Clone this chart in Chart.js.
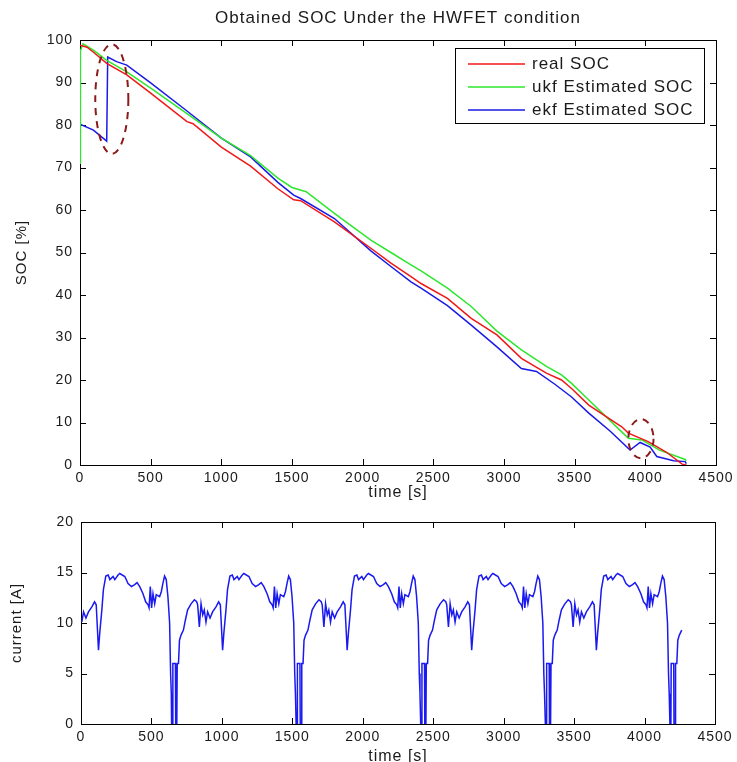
<!DOCTYPE html>
<html>
<head>
<meta charset="utf-8">
<script src="https://cdn.jsdelivr.net/npm/chart.js@4.4.0/dist/chart.umd.min.js"></script>
<style>
  body { margin: 0; background: #fff; overflow: hidden; }
  #wrap { position: relative; width: 737px; height: 762px; overflow: hidden; }
  #socChart { position: absolute; left: 0; top: 0; }
  #currentChart { position: absolute; left: 0; top: 500px; }
</style>
</head>
<body>
<div id="wrap">
  <canvas id="socChart" width="737" height="502"></canvas>
  <canvas id="currentChart" width="737" height="268"></canvas>
</div>
<script>
// SOC curves (time in s, SOC in %)
const realTime = [0, 50, 100, 189, 331, 500, 757, 800, 1000, 1207, 1400, 1512, 1561, 1800, 2058, 2200, 2342, 2413, 2600, 2768, 2950, 3123, 3300, 3407, 3478, 3600, 3833, 3880, 4020, 4150, 4260, 4290];
const realSoc  = [98.8, 98.3, 97.0, 94.5, 91.8, 87.5, 80.8, 80.3, 74.8, 70.3, 65.0, 62.4, 62.2, 57.2, 51.0, 47.5, 44.3, 42.7, 39.2, 34.5, 30.6, 25.1, 21.6, 20.0, 18.0, 14.1, 9.0, 7.5, 5.5, 3.0, 0.2, 0];

const ukfTime = [0, 3, 22, 100, 189, 331, 500, 757, 1000, 1207, 1400, 1500, 1600, 1800, 2058, 2200, 2342, 2413, 2600, 2768, 2950, 3123, 3300, 3407, 3478, 3600, 3833, 3880, 3975, 4100, 4282, 4290];
const ukfSoc  = [71.0, 97.5, 99.1, 97.5, 95.2, 92.5, 88.7, 82.7, 76.9, 72.8, 67.5, 65.3, 64.3, 59.2, 52.9, 50.0, 47.1, 45.7, 41.6, 37.3, 31.5, 27.1, 23.2, 21.2, 19.2, 15.3, 7.8, 6.3, 5.9, 3.5, 1.3, 1.0];

const ekfTime = [0, 95, 189, 196, 259, 331, 500, 757, 1000, 1207, 1400, 1512, 1561, 1800, 2058, 2200, 2342, 2413, 2600, 2768, 2950, 3123, 3230, 3360, 3478, 3600, 3750, 3892, 3963, 4034, 4081, 4200, 4282, 4290];
const ekfSoc  = [80.2, 78.8, 76.2, 96.0, 94.9, 94.1, 89.9, 83.3, 76.9, 72.5, 66.5, 63.5, 62.7, 58.0, 50.4, 46.7, 43.1, 41.6, 37.5, 32.9, 27.8, 22.7, 22.0, 19.0, 16.0, 12.2, 8.0, 3.5, 5.3, 4.2, 2.0, 1.0, 0.8, 0.3];

// one repetition of the current trace, time measured from the start of each stop
const cycleTime = [0, 7, 9, 27, 29, 37, 40, 49, 56, 67, 84, 98, 114, 138, 162, 178, 185, 197, 209, 221, 232, 244, 256, 273, 291, 315, 334, 346, 355, 362, 371, 386, 397, 414, 431, 443, 466, 478, 501, 513, 549, 572, 596, 619, 636, 655, 678, 697, 714, 721, 730, 739, 749, 761, 772, 796, 808, 819, 831, 843, 855, 867, 874, 879];
const cycleCurrent = [0, 0, 6, 6, 0, 0, 6, 6, 8.3, 8.8, 9.3, 10.3, 11.3, 11.9, 12.3, 12.1, 11.8, 9.6, 11.9, 10.8, 11.3, 10.1, 11.1, 10.5, 11.1, 11.6, 12.1, 11.8, 9.3, 7.3, 9.0, 11.3, 13.3, 14.65, 14.75, 14.3, 14.6, 14.3, 14.75, 14.9, 14.6, 13.9, 13.6, 13.8, 14.0, 13.6, 12.9, 12.1, 11.8, 11.5, 13.6, 11.5, 12.9, 11.9, 12.8, 12.6, 13.1, 13.9, 14.65, 14.3, 12.6, 10.0, 5.0, 3.0];
const cycleStarts = [-238, 643, 1527, 2411, 3296, 4180];
const currentEnd = 4270;

const timeTicks = [0, 500, 1000, 1500, 2000, 2500, 3000, 3500, 4000, 4500];
const titleText = 'Obtained SOC Under the HWFET condition';

// dashed rings drawn around the two interesting spots
const highlightSpots = [
  { t: 225, soc: 86.1, dt: 117, dsoc: 12.9 },
  { t: 3969, soc: 6.2, dt: 89, dsoc: 4.6 }
];

const pairs = (xs, ys) => xs.map((x, i) => ({ x: x, y: ys[i] }));

const currentPoints = [];
cycleStarts.forEach(start => {
  cycleTime.forEach((r, i) => {
    const t = start + r;
    if (t >= 0 && t <= currentEnd) currentPoints.push({ x: t, y: cycleCurrent[i] });
  });
});

const FONT = "'Liberation Sans', Arial, sans-serif";
const TEXT = '#1a1a1a';

// wider text, like the original figure
const spacing = {
  id: 'spacing',
  beforeDraw(chart) { chart.ctx.letterSpacing = '1px'; }
};

// MATLAB style box with inward ticks on all sides
const matlabAxes = {
  id: 'matlabAxes',
  beforeDatasetsDraw(chart) {
    const { ctx, chartArea: a, scales: { x, y } } = chart;
    ctx.save();
    ctx.strokeStyle = '#000';
    ctx.lineWidth = 1;
    ctx.beginPath();
    x.ticks.forEach(t => {
      const px = Math.round(x.getPixelForValue(t.value)) + 0.5;
      ctx.moveTo(px, a.bottom); ctx.lineTo(px, a.bottom - 6);
      ctx.moveTo(px, a.top); ctx.lineTo(px, a.top + 6);
    });
    y.ticks.forEach(t => {
      const py = Math.round(y.getPixelForValue(t.value)) + 0.5;
      ctx.moveTo(a.left, py); ctx.lineTo(a.left + 6, py);
      ctx.moveTo(a.right, py); ctx.lineTo(a.right - 6, py);
    });
    ctx.stroke();
    ctx.strokeRect(Math.round(a.left) + 0.5, Math.round(a.top) + 0.5, Math.round(a.right - a.left), Math.round(a.bottom - a.top));
    ctx.restore();
  }
};

const ellipseMarks = {
  id: 'ellipseMarks',
  afterDatasetsDraw(chart) {
    const { ctx, scales: { x, y } } = chart;
    ctx.save();
    ctx.strokeStyle = '#8b1a1a';
    ctx.lineWidth = 2;
    ctx.setLineDash([7, 6]);
    highlightSpots.forEach(m => {
      const cx = x.getPixelForValue(m.t), cy = y.getPixelForValue(m.soc);
      const rx = Math.abs(x.getPixelForValue(m.t + m.dt) - cx);
      const ry = Math.abs(y.getPixelForValue(m.soc + m.dsoc) - cy);
      ctx.beginPath();
      ctx.ellipse(cx, cy, rx, ry, 0, 0, Math.PI * 2);
      ctx.stroke();
    });
    ctx.restore();
  }
};

// legend box inside the top right corner of the plot, title centred over the plot
const boxLegend = {
  id: 'boxLegend',
  afterDraw(chart) {
    const { ctx, chartArea: a } = chart;
    const w = 249, h = 75;
    const left = a.right - 12 - w, top = a.top + 8;
    ctx.save();
    ctx.fillStyle = '#fff';
    ctx.fillRect(left, top, w, h);
    ctx.strokeStyle = '#000';
    ctx.lineWidth = 1;
    ctx.strokeRect(Math.round(left) + 0.5, Math.round(top) + 0.5, w, h);
    ctx.font = '17px ' + FONT;
    ctx.textBaseline = 'middle';
    chart.data.datasets.forEach((ds, i) => {
      const yy = top + 16 + i * 23;
      ctx.strokeStyle = ds.borderColor;
      ctx.lineWidth = 1.5;
      ctx.beginPath();
      ctx.moveTo(left + 13, yy);
      ctx.lineTo(left + 70, yy);
      ctx.stroke();
      ctx.fillStyle = TEXT;
      ctx.fillText(ds.label, left + 77, yy);
    });
    ctx.textAlign = 'center';
    ctx.fillText(titleText, (a.left + a.right) / 2, 18);
    ctx.restore();
  }
};

const xAxis = (height, titlePad) => ({
  type: 'linear',
  min: 0,
  max: 4500,
  afterFit: s => { s.height = height; },
  afterBuildTicks: s => { s.ticks = timeTicks.map(v => ({ value: v })); },
  grid: { display: false, drawTicks: false },
  border: { display: false },
  ticks: { color: TEXT, font: { family: FONT, size: 14 }, padding: 5, maxRotation: 0, autoSkip: false, callback: v => String(v) },
  title: { display: true, text: 'time [s]', color: TEXT, font: { family: FONT, size: 16 }, padding: { top: 0, bottom: titlePad } }
});

const yAxis = (min, max, step, width, label, titlePad) => ({
  min: min,
  max: max,
  afterFit: s => { s.width = width; },
  grid: { display: false, drawTicks: false },
  border: { display: false },
  ticks: { stepSize: step, color: TEXT, font: { family: FONT, size: 14 }, padding: 7 },
  title: { display: true, text: label, color: TEXT, font: { family: FONT, size: 15 }, padding: { top: titlePad, bottom: 0 } }
});

const lineSet = (label, data, color) => ({
  label: label,
  data: data,
  borderColor: color,
  borderWidth: 1.5,
  pointRadius: 0,
  fill: false,
  tension: 0
});

new Chart(document.getElementById('socChart'), {
  type: 'line',
  data: {
    datasets: [
      lineSet('real SOC', pairs(realTime, realSoc), '#f01818'),
      lineSet('ukf Estimated SOC', pairs(ukfTime, ukfSoc), '#2ee62e'),
      lineSet('ekf Estimated SOC', pairs(ekfTime, ekfSoc), '#1a1ae6')
    ]
  },
  options: {
    responsive: false,
    animation: false,
    devicePixelRatio: 1,
    layout: { padding: { top: 40, right: 21, bottom: 0, left: 0 } },
    plugins: {
      legend: { display: false },
      tooltip: { enabled: false }
    },
    scales: {
      x: xAxis(37, 0),
      y: yAxis(0, 100, 10, 80, 'SOC [%]', 13)
    }
  },
  plugins: [spacing, matlabAxes, ellipseMarks, boxLegend]
});

new Chart(document.getElementById('currentChart'), {
  type: 'line',
  data: {
    datasets: [lineSet('current', currentPoints, '#1a1af0')]
  },
  options: {
    responsive: false,
    animation: false,
    devicePixelRatio: 1,
    layout: { padding: { top: 22, right: 22, bottom: 0, left: 0 } },
    plugins: {
      legend: { display: false },
      tooltip: { enabled: false }
    },
    scales: {
      x: xAxis(44, 2),
      y: yAxis(0, 20, 5, 81, 'current [A]', 8)
    }
  },
  plugins: [spacing, matlabAxes]
});
</script>
</body>
</html>
